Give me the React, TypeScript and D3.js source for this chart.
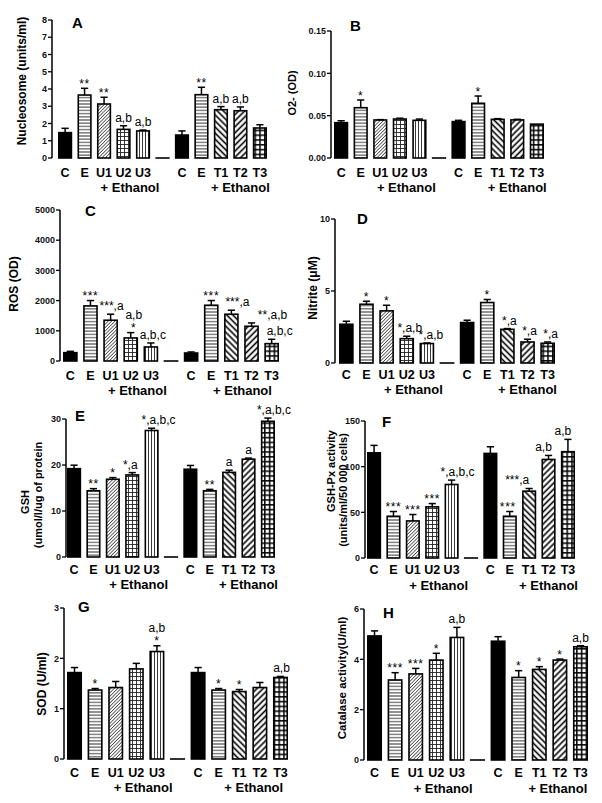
import React from "react";
import * as d3 from "d3";

// ---------- DATA ----------
const categories = ["C", "E", "U1", "U2", "U3", "", "C", "E", "T1", "T2", "T3"];

const nucleosomeMean = [1.47, 3.65, 3.13, 1.66, 1.57, 0, 1.33, 3.67, 2.8, 2.74, 1.74];
const nucleosomeErr = [0.25, 0.39, 0.39, 0.21, 0.05, 0, 0.24, 0.43, 0.18, 0.22, 0.19];
const nucleosomeNotes = ["", "**", "**", "a,b", "a,b", "", "", "**", "a,b", "a,b", ""];
const nucleosomeTicks = [0, 1, 2, 3, 4, 5, 6, 7, 8];
const nucleosomeTickLabels = ["0", "1", "2", "3", "4", "5", "6", "7", "8"];

const o2Mean = [0.0417, 0.0594, 0.0449, 0.046, 0.0445, 0, 0.043, 0.0646, 0.0457, 0.045, 0.04];
const o2Err = [0.0023, 0.0091, 0.0004, 0.001, 0.0015, 0, 0.0015, 0.0086, 0.0008, 0.0007, 0];
const o2Notes = ["", "*", "", "", "", "", "", "*", "", "", ""];
const o2Ticks = [0, 0.05, 0.1, 0.15];
const o2TickLabels = ["0.00", "0.05", "0.10", "0.15"];

const rosMean = [277, 1825, 1350, 763, 465, 0, 265, 1847, 1549, 1150, 575];
const rosErr = [43, 177, 199, 177, 132, 0, 34, 155, 132, 111, 144];
const rosNotes = ["", "***", "***,a", "a,b\n*", "a,b,c", "", "", "***", "***,a", "**,a,b", "a,b,c"];
const rosTicks = [0, 1000, 2000, 3000, 4000, 5000];
const rosTickLabels = ["0", "1000", "2000", "3000", "4000", "5000"];

const nitriteMean = [2.69, 4.08, 3.62, 1.69, 1.35, 0, 2.81, 4.2, 2.34, 1.46, 1.37];
const nitriteErr = [0.21, 0.21, 0.39, 0.17, 0.04, 0, 0.16, 0.21, 0.05, 0.19, 0.09];
const nitriteNotes = ["", "*", "*", "*,a,b", "*,a,b", "", "", "*", "*,a", "*,a", "*,a"];
const nitriteTicks = [0, 5, 10];
const nitriteTickLabels = ["0", "5", "10"];

const gshMean = [19.2, 14.4, 16.9, 17.84, 27.5, 0, 19.08, 14.4, 18.4, 21.27, 29.5];
const gshErr = [0.76, 0.46, 0.36, 0.51, 0.5, 0, 0.82, 0.3, 0.47, 0.23, 0.7];
const gshNotes = ["", "**", "*", "*,a", "*,a,b,c", "", "", "**", "a", "a", "*,a,b,c"];
const gshTicks = [0, 10, 20, 30];
const gshTickLabels = ["0", "10", "20", "30"];

const gpxMean = [115.2, 45.7, 40.6, 56, 80.5, 0, 114.5, 45.7, 73.2, 107.9, 116.4];
const gpxErr = [8.1, 5.2, 7.0, 3.6, 4.8, 0, 7.3, 5.2, 2.9, 4.4, 13.5];
const gpxNotes = ["", "***", "***", "***", "*,a,b,c", "", "", "***", "***,a", "a,b", "a,b"];
const gpxTicks = [0, 50, 100, 150];
const gpxTickLabels = ["0", "50", "100", "150"];

const sodMean = [1.717, 1.37, 1.42, 1.79, 2.135, 0, 1.717, 1.37, 1.34, 1.42, 1.62];
const sodErr = [0.1, 0.03, 0.12, 0.11, 0.115, 0, 0.1, 0.03, 0.04, 0.1, 0.02];
const sodNotes = ["", "*", "", "", "a,b\n*", "", "", "*", "*", "", "a,b"];
const sodTicks = [0, 1, 2, 3];
const sodTickLabels = ["0", "1", "2", "3"];

const catMean = [4.93, 3.18, 3.42, 3.97, 4.87, 0, 4.72, 3.28, 3.6, 3.97, 4.5];
const catErr = [0.2, 0.29, 0.22, 0.27, 0.4, 0, 0.18, 0.27, 0.11, 0.04, 0.04];
const catNotes = ["", "***", "***", "*", "a,b", "", "", "*", "*", "*", "a,b"];
const catTicks = [0, 2, 4, 6];
const catTickLabels = ["0", "2", "4", "6"];

// ---------- STYLE / LAYOUT ----------
const fillKinds = ["solid", "hlines", "diagFine", "gridFine", "vlines", "stub", "solid", "hlines", "diagBack", "diagFwd", "gridBold"];
const FONT = "'Liberation Sans', Arial, Helvetica, sans-serif";

type Title = { text: string; x: number; y: number; size: number; weight?: string };
type PanelSpec = {
  letter: string; mean: number[]; err: number[]; notes: string[]; ticks: number[]; tickLabels: string[];
  axisX: number; y0: number; yTop: number; xr: [number, number];
  letterX: number; letterY: number; titles: Title[];
  labelDy: number; ethDy: number; eth2Dx: number; noteDx: number[];
};

const panels: PanelSpec[] = [
  {
    letter: "A", mean: nucleosomeMean, err: nucleosomeErr, notes: nucleosomeNotes, ticks: nucleosomeTicks, tickLabels: nucleosomeTickLabels,
    axisX: 52, y0: 158, yTop: 20, xr: [58, 267], letterX: 72, letterY: 28,
    titles: [{ text: "Nucleosome (units/ml)", x: 22, y: 81, size: 12 }],
    labelDy: 18.5, ethDy: 33.5, eth2Dx: 0, noteDx: [0, 0, 0, 0, 0, 0, 0, 0, 0, 0, 0],
  },
  {
    letter: "B", mean: o2Mean, err: o2Err, notes: o2Notes, ticks: o2Ticks, tickLabels: o2TickLabels,
    axisX: 331, y0: 158, yTop: 31, xr: [334, 544], letterX: 350, letterY: 31,
    titles: [{ text: "O2- (OD)", x: 292, y: 93, size: 11 }],
    labelDy: 19, ethDy: 34, eth2Dx: 0, noteDx: [0, 0, 0, 0, 0, 0, 0, 0, 0, 0, 0],
  },
  {
    letter: "C", mean: rosMean, err: rosErr, notes: rosNotes, ticks: rosTicks, tickLabels: rosTickLabels,
    axisX: 60, y0: 361, yTop: 210, xr: [63, 279], letterX: 85, letterY: 216,
    titles: [{ text: "ROS (OD)", x: 14, y: 284, size: 12 }],
    labelDy: 19, ethDy: 34, eth2Dx: -0.45, noteDx: [0, 0, 1, 3, 2, 0, 0, 0, 6, 21, 8],
  },
  {
    letter: "D", mean: nitriteMean, err: nitriteErr, notes: nitriteNotes, ticks: nitriteTicks, tickLabels: nitriteTickLabels,
    axisX: 335, y0: 363, yTop: 219, xr: [339, 555], letterX: 357, letterY: 224,
    titles: [{ text: "Nitrite (\u03BCM)", x: 313, y: 288, size: 12 }],
    labelDy: 16, ethDy: 30.5, eth2Dx: 0, noteDx: [0, 0, 0, 3, 4, 0, 0, 0, 2, 2, 3],
  },
  {
    letter: "E", mean: gshMean, err: gshErr, notes: gshNotes, ticks: gshTicks, tickLabels: gshTickLabels,
    axisX: 66, y0: 557, yTop: 419, xr: [67, 275], letterX: 75, letterY: 421,
    titles: [
      { text: "GSH", x: 25, y: 502, size: 11 },
      { text: "(umol/l/ug of protein", x: 38, y: 495, size: 11 },
    ],
    labelDy: 17, ethDy: 32, eth2Dx: 0, noteDx: [0, 0, 0, -2, 7, 0, 0, 0, 0, 0, 6],
  },
  {
    letter: "F", mean: gpxMean, err: gpxErr, notes: gpxNotes, ticks: gpxTicks, tickLabels: gpxTickLabels,
    axisX: 365, y0: 558, yTop: 421, xr: [367, 575], letterX: 382, letterY: 427,
    titles: [
      { text: "GSH-Px activity", x: 331, y: 471, size: 11 },
      { text: "(units/ml/50 000 cells)", x: 343, y: 490, size: 11 },
    ],
    labelDy: 16, ethDy: 32, eth2Dx: 0, noteDx: [0, 0, 0, 0, 6, 0, 0, -2, -12, -5, -5],
  },
  {
    letter: "G", mean: sodMean, err: sodErr, notes: sodNotes, ticks: sodTicks, tickLabels: sodTickLabels,
    axisX: 64, y0: 759, yTop: 608, xr: [67, 288], letterX: 78, letterY: 612,
    titles: [{ text: "SOD (U/ml)", x: 42, y: 684, size: 12 }],
    labelDy: 18, ethDy: 33, eth2Dx: -0.3, noteDx: [0, 0, 0, 0, 0, 0, 0, 0, 0, 0, 1],
  },
  {
    letter: "H", mean: catMean, err: catErr, notes: catNotes, ticks: catTicks, tickLabels: catTickLabels,
    axisX: 364, y0: 760, yTop: 609, xr: [367, 588], letterX: 383, letterY: 618,
    titles: [{ text: "Catalase activity(U/ml)", x: 342, y: 678, size: 11.5 }],
    labelDy: 17, ethDy: 33, eth2Dx: -0.1, noteDx: [0, 0, 0, 0, 0, 0, 0, 0, 0, 0, 0],
  },
];

function fillFor(kind: string): string {
  if (kind === "solid") return "#000";
  return `url(#pat-${kind})`;
}

function Patterns() {
  return (
    <defs>
      <pattern id="pat-hlines" patternUnits="userSpaceOnUse" width={4} height={3.2}>
        <rect width={4} height={3.2} fill="#fff" />
        <line x1={0} x2={4} y1={1.6} y2={1.6} stroke="#222" strokeWidth={0.9} />
      </pattern>
      <pattern id="pat-vlines" patternUnits="userSpaceOnUse" width={3} height={4}>
        <rect width={3} height={4} fill="#fff" />
        <line x1={1.5} x2={1.5} y1={0} y2={4} stroke="#222" strokeWidth={0.9} />
      </pattern>
      <pattern id="pat-diagFine" patternUnits="userSpaceOnUse" width={2.4} height={4} patternTransform="rotate(45)">
        <rect width={2.4} height={4} fill="#fff" />
        <line x1={1.2} x2={1.2} y1={0} y2={4} stroke="#333" strokeWidth={0.8} />
      </pattern>
      <pattern id="pat-gridFine" patternUnits="userSpaceOnUse" width={4} height={4}>
        <rect width={4} height={4} fill="#fff" />
        <line x1={0.5} x2={0.5} y1={0} y2={4} stroke="#222" strokeWidth={0.9} />
        <line x1={0} x2={4} y1={0.5} y2={0.5} stroke="#222" strokeWidth={0.9} />
      </pattern>
      <pattern id="pat-diagBack" patternUnits="userSpaceOnUse" width={4.3} height={4} patternTransform="rotate(-45)">
        <rect width={4.3} height={4} fill="#fff" />
        <line x1={2.1} x2={2.1} y1={0} y2={4} stroke="#000" strokeWidth={1.6} />
      </pattern>
      <pattern id="pat-diagFwd" patternUnits="userSpaceOnUse" width={4.3} height={4} patternTransform="rotate(45)">
        <rect width={4.3} height={4} fill="#fff" />
        <line x1={2.1} x2={2.1} y1={0} y2={4} stroke="#000" strokeWidth={1.6} />
      </pattern>
      <pattern id="pat-gridBold" patternUnits="userSpaceOnUse" width={4.8} height={4.8}>
        <rect width={4.8} height={4.8} fill="#fff" />
        <line x1={0.8} x2={0.8} y1={0} y2={4.8} stroke="#000" strokeWidth={1.5} />
        <line x1={0} x2={4.8} y1={0.8} y2={0.8} stroke="#000" strokeWidth={1.5} />
      </pattern>
    </defs>
  );
}

function isStars(s: string) {
  return /^\*+$/.test(s);
}

function Panel({ p }: { p: PanelSpec }) {
  const yMax = p.ticks[p.ticks.length - 1];
  const y = d3.scaleLinear().domain([0, yMax]).range([p.y0, p.yTop]);
  const x = d3
    .scaleBand<number>()
    .domain(d3.range(categories.length))
    .range(p.xr)
    .paddingInner(0.27)
    .paddingOuter(0);
  const bw = x.bandwidth();
  const step = x.step();
  const cx = (i: number) => (x(i) as number) + bw / 2;

  return (
    <g>
      {/* bars */}
      {p.mean.map((m, i) => {
        const kind = fillKinds[i];
        const x0 = x(i) as number;
        if (kind === "stub") {
          return <rect key={"b" + i} x={x0} y={p.y0 - 1} width={bw} height={2} fill="#333" />;
        }
        const top = y(m);
        return (
          <rect
            key={"b" + i}
            x={x0 + 0.8}
            y={top}
            width={bw - 1.6}
            height={p.y0 - top}
            fill={fillFor(kind)}
            stroke="#000"
            strokeWidth={1.6}
          />
        );
      })}
      {/* error bars */}
      {p.mean.map((m, i) => {
        const e = p.err[i];
        if (!e) return null;
        const c = cx(i);
        const t = y(m + e);
        return (
          <g key={"e" + i} stroke="#000" strokeWidth={1.5}>
            <line x1={c} x2={c} y1={y(m)} y2={t} />
            <line x1={c - 3.6} x2={c + 3.6} y1={t} y2={t} />
          </g>
        );
      })}
      {/* annotations */}
      {p.notes.map((n, i) => {
        if (!n) return null;
        const lines = n.split("\n");
        const t = y(p.mean[i] + p.err[i]);
        const c = cx(i) + p.noteDx[i];
        const last = lines[lines.length - 1];
        const base = t - (isStars(last) ? 0.5 : 4);
        return (
          <g key={"n" + i}>
            {lines.map((ln, k) => (
              <text
                key={k}
                x={c}
                y={base - (lines.length - 1 - k) * 13.5}
                textAnchor="middle"
                fontSize={12}
                fontFamily={FONT}
                fill="#000"
                letterSpacing={isStars(ln) ? 0.6 : 0}
              >
                {ln}
              </text>
            ))}
          </g>
        );
      })}
      {/* y axis */}
      <line x1={p.axisX} x2={p.axisX} y1={p.y0} y2={p.yTop} stroke="#000" strokeWidth={1.5} />
      {p.ticks.map((tv, k) => (
        <g key={"t" + k}>
          <line x1={p.axisX - 4} x2={p.axisX} y1={y(tv)} y2={y(tv)} stroke="#000" strokeWidth={1.3} />
          <text
            x={p.axisX - 5}
            y={y(tv) + 3.2}
            textAnchor="end"
            fontSize={9}
            fontWeight="bold"
            fontFamily={FONT}
            fill="#111"
          >
            {p.tickLabels[k]}
          </text>
        </g>
      ))}
      {/* category labels */}
      {categories.map((c, i) =>
        c ? (
          <text
            key={"c" + i}
            x={cx(i)}
            y={p.y0 + p.labelDy}
            textAnchor="middle"
            fontSize={12.5}
            fontWeight="bold"
            fontFamily={FONT}
            fill="#000"
          >
            {c}
          </text>
        ) : null
      )}
      <text
        x={cx(3) + 0.33 * step}
        y={p.y0 + p.ethDy}
        textAnchor="middle"
        fontSize={13}
        fontWeight="bold"
        fontFamily={FONT}
      >
        + Ethanol
      </text>
      <text
        x={cx(9) + p.eth2Dx * step}
        y={p.y0 + p.ethDy}
        textAnchor="middle"
        fontSize={13}
        fontWeight="bold"
        fontFamily={FONT}
      >
        + Ethanol
      </text>
      {/* panel letter */}
      <text x={p.letterX} y={p.letterY} fontSize={15} fontWeight="bold" fontFamily={FONT}>
        {p.letter}
      </text>
      {/* axis titles */}
      {p.titles.map((t, k) => (
        <text
          key={"ti" + k}
          transform={`translate(${t.x},${t.y}) rotate(-90)`}
          textAnchor="middle"
          dominantBaseline="central"
          fontSize={t.size}
          fontWeight={t.weight ?? "bold"}
          fontFamily={FONT}
        >
          {t.text}
        </text>
      ))}
    </g>
  );
}

export default function App() {
  return (
    <svg
      width={602}
      height={803}
      style={{ position: "absolute", left: 0, top: 0, background: "#fff" }}
      xmlns="http://www.w3.org/2000/svg"
    >
      <Patterns />
      <rect width={602} height={803} fill="#fff" />
      {panels.map((p) => (
        <Panel key={p.letter} p={p} />
      ))}
    </svg>
  );
}
